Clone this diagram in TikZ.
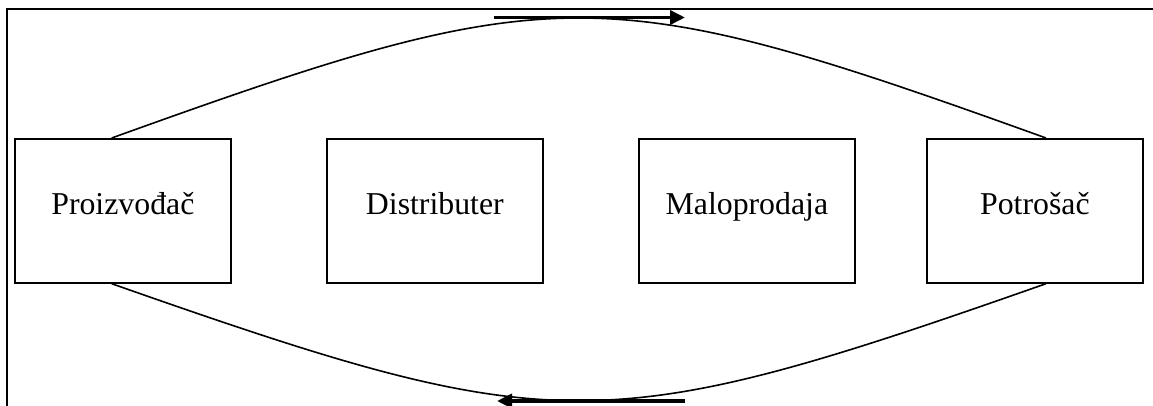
\documentclass[tikz,border=0pt]{standalone}
\usepackage{fontspec}
\setmainfont{Liberation Serif}
\usetikzlibrary{arrows.meta,calc}
\begin{document}
\begin{tikzpicture}[x=1pt,y=-1pt,
  stage/.style={draw,line width=1.7pt,minimum width=216pt,minimum height=144pt,
    inner sep=0pt,anchor=north west,font=\fontsize{31.8}{38}\selectfont,
    text height=22pt,text depth=15.4pt},
  frameline/.style={line width=1.6pt},
  flow/.style={line width=1.6pt},
  bigarrow/.style={line width=3.6pt,-{Triangle[length=15pt,width=14pt]}}]
\useasboundingbox (0,0) rectangle (1153,406);

% outer frame (left and top edges)
\coordinate (fbl) at (7,406);
\coordinate (ftl) at (7,9);
\coordinate (ftr) at (1153,9);
\draw[frameline] (fbl) -- (ftl) -- (ftr);

% the four stages of the chain
\node[stage] (p) at (14,138)  {Proizvođač};
\node[stage] (d) at (326,138) {Distributer};
\node[stage] (m) at (638,138) {Maloprodaja};
\node[stage] (c) at (926,138) {Potrošač};

% upper and lower arcs joining producer and consumer
\coordinate (ts) at ($(p.north west)!0.449!(p.north east)$);
\coordinate (te) at ($(c.north west)!0.551!(c.north east)$);
\coordinate (bs) at ($(p.south west)!0.449!(p.south east)$);
\coordinate (be) at ($(c.south west)!0.551!(c.south east)$);
\draw[flow] (ts) .. controls ($(ts)+(444,-160)$) and ($(te)+(-444,-160)$) .. (te);
\draw[flow] (bs) .. controls ($(bs)+(444,156)$) and ($(be)+(-444,156)$) .. (be);

% direction arrows on the arcs
\coordinate (a1s) at (494,17.5);
\coordinate (a1e) at (685,17.5);
\coordinate (a2s) at (685,401);
\coordinate (a2e) at (497,401);
\draw[bigarrow] (a1s) -- (a1e);
\draw[bigarrow] (a2s) -- (a2e);
\end{tikzpicture}
\end{document}
